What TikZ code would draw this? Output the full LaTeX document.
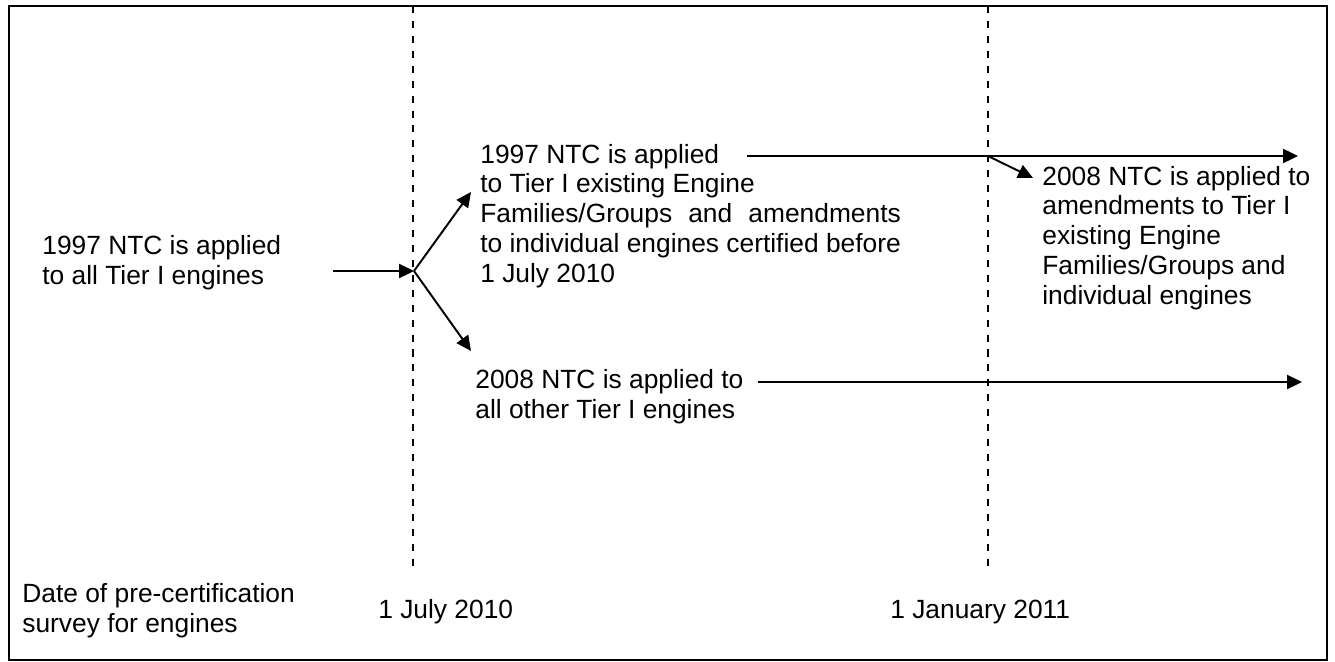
\documentclass[tikz,border=0pt]{standalone}
\usepackage{fontspec}
\setmainfont{Liberation Sans}
\usetikzlibrary{arrows.meta}
\newsavebox\widebox
\newcommand{\spreadto}[2]{\sbox\widebox{#2}\makebox[\wd\widebox][s]{#1}}

\begin{document}
\begin{tikzpicture}[x=0.02cm, y=-0.02cm,
  txt/.style={font=\fontsize{15pt}{17pt}\selectfont, align=left, anchor=west, inner sep=0pt},
  flow/.style={-{Triangle[length=8.5pt,width=8pt]}, line width=1.1pt},
  dateline/.style={line width=0.8pt, dash pattern=on 4pt off 4.5pt}]
\useasboundingbox (0,0) rectangle (1335,662);
\draw[line width=1.1pt] (9,6) rectangle (1327,660);
% dates
\draw[dateline] (413,6) -- (413,573);
\draw[dateline] (988,6) -- (988,573);
\node[txt] (survey) at (22,611) {Date of pre-certification\\ survey for engines};
\node[txt] (july) at (378,612) {1 July 2010};
\node[txt] (jan) at (890,612) {1 January 2011};
% texts
\node[txt] (all97) at (42,263) {1997 NTC is applied\\ to all Tier I engines};
\node[txt] (exist97) at (480,216) {1997 NTC is applied\\ to Tier I existing Engine\\
  \spreadto{Families/Groups and amendments}{to individual engines certified before}\\
  to individual engines certified before\\ 1 July 2010};
\node[txt] (other08) at (475,397) {2008 NTC is applied to\\ all other Tier I engines};
\node[txt] (amend08) at (1042,238) {2008 NTC is applied to\\ amendments to Tier I\\ existing Engine\\ Families/Groups and\\ individual engines};
% arrows
\coordinate (in) at (333,271);
\coordinate (split) at (414,271);
\coordinate (up) at (471,192);
\coordinate (down) at (471,351);
\coordinate (topstart) at (747,156);
\coordinate (topfork) at (988,156);
\coordinate (topend) at (1298,156);
\coordinate (forkend) at (1033,178);
\coordinate (lowstart) at (758,382);
\coordinate (lowend) at (1302,382);
\draw[flow] (in) -- (split);
\draw[flow] (split) -- (up);
\draw[flow] (split) -- (down);
\draw[flow] (topstart) -- (topend);
\draw[flow] (topfork) -- (forkend);
\draw[flow] (lowstart) -- (lowend);
\end{tikzpicture}
\end{document}
